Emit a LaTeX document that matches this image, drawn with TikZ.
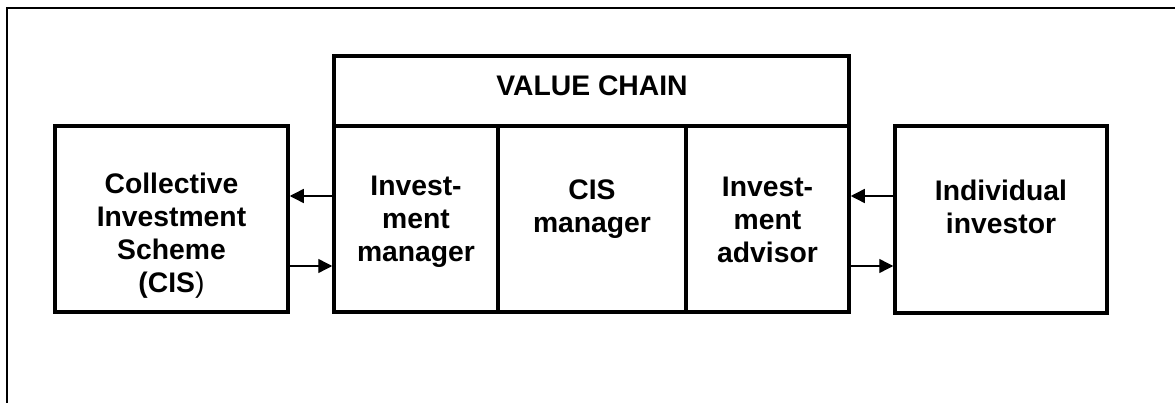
\documentclass[tikz,border=0pt]{standalone}
\usepackage{fontspec}
\setmainfont{Liberation Sans}
\usetikzlibrary{arrows.meta}
\begin{document}
\begin{tikzpicture}[x=1pt,y=-1pt,
  box/.style={draw=black,line width=3.5pt,rectangle,inner sep=0pt},
  lbl/.style={align=center,inner sep=0pt,anchor=north,font=\fontsize{28.3}{33}\selectfont\bfseries},
  arr/.style={line width=1.4pt,-{Triangle[length=14pt,width=14pt]}}]
\useasboundingbox (0,0) rectangle (1175,403);
\draw[line width=1.3pt] (7,403) -- (7,8) -- (1175,8);
% boxes
\node[box,minimum width=233pt,minimum height=186pt] (cis) at (171.5,219) {};
\node[box,minimum width=515pt,minimum height=70pt] (vctop) at (591.5,91) {};
\node[box,minimum width=164pt,minimum height=186pt] (im) at (416,219) {};
\node[box,minimum width=188pt,minimum height=186pt] (cism) at (592,219) {};
\node[box,minimum width=163pt,minimum height=186pt] (ia) at (767.5,219) {};
\node[box,minimum width=212pt,minimum height=187pt] (ind) at (1001,219.5) {};
% texts
\node[lbl,anchor=center] (vct) at (592,86) {VALUE CHAIN};
\node[lbl] (cist) at (171.5,173) {Collective\\Investment\\Scheme\\(CIS{\mdseries)}};
\node[lbl] (imt) at (416,175.5) {Invest-\\ment\\manager};
\node[lbl] (cismt) at (592,180) {CIS\\manager};
\node[lbl] (iat) at (767.5,176.5) {Invest-\\ment\\advisor};
\node[lbl] (indt) at (1001,180) {Individual\\investor};
% arrows
\draw[arr] (im.west |- 0,196) -- (cis.east |- 0,196);
\draw[arr] (cis.east |- 0,266) -- (im.west |- 0,266);
\draw[arr] (ind.west |- 0,196) -- (ia.east |- 0,196);
\draw[arr] (ia.east |- 0,266) -- (ind.west |- 0,266);
\end{tikzpicture}
\end{document}
